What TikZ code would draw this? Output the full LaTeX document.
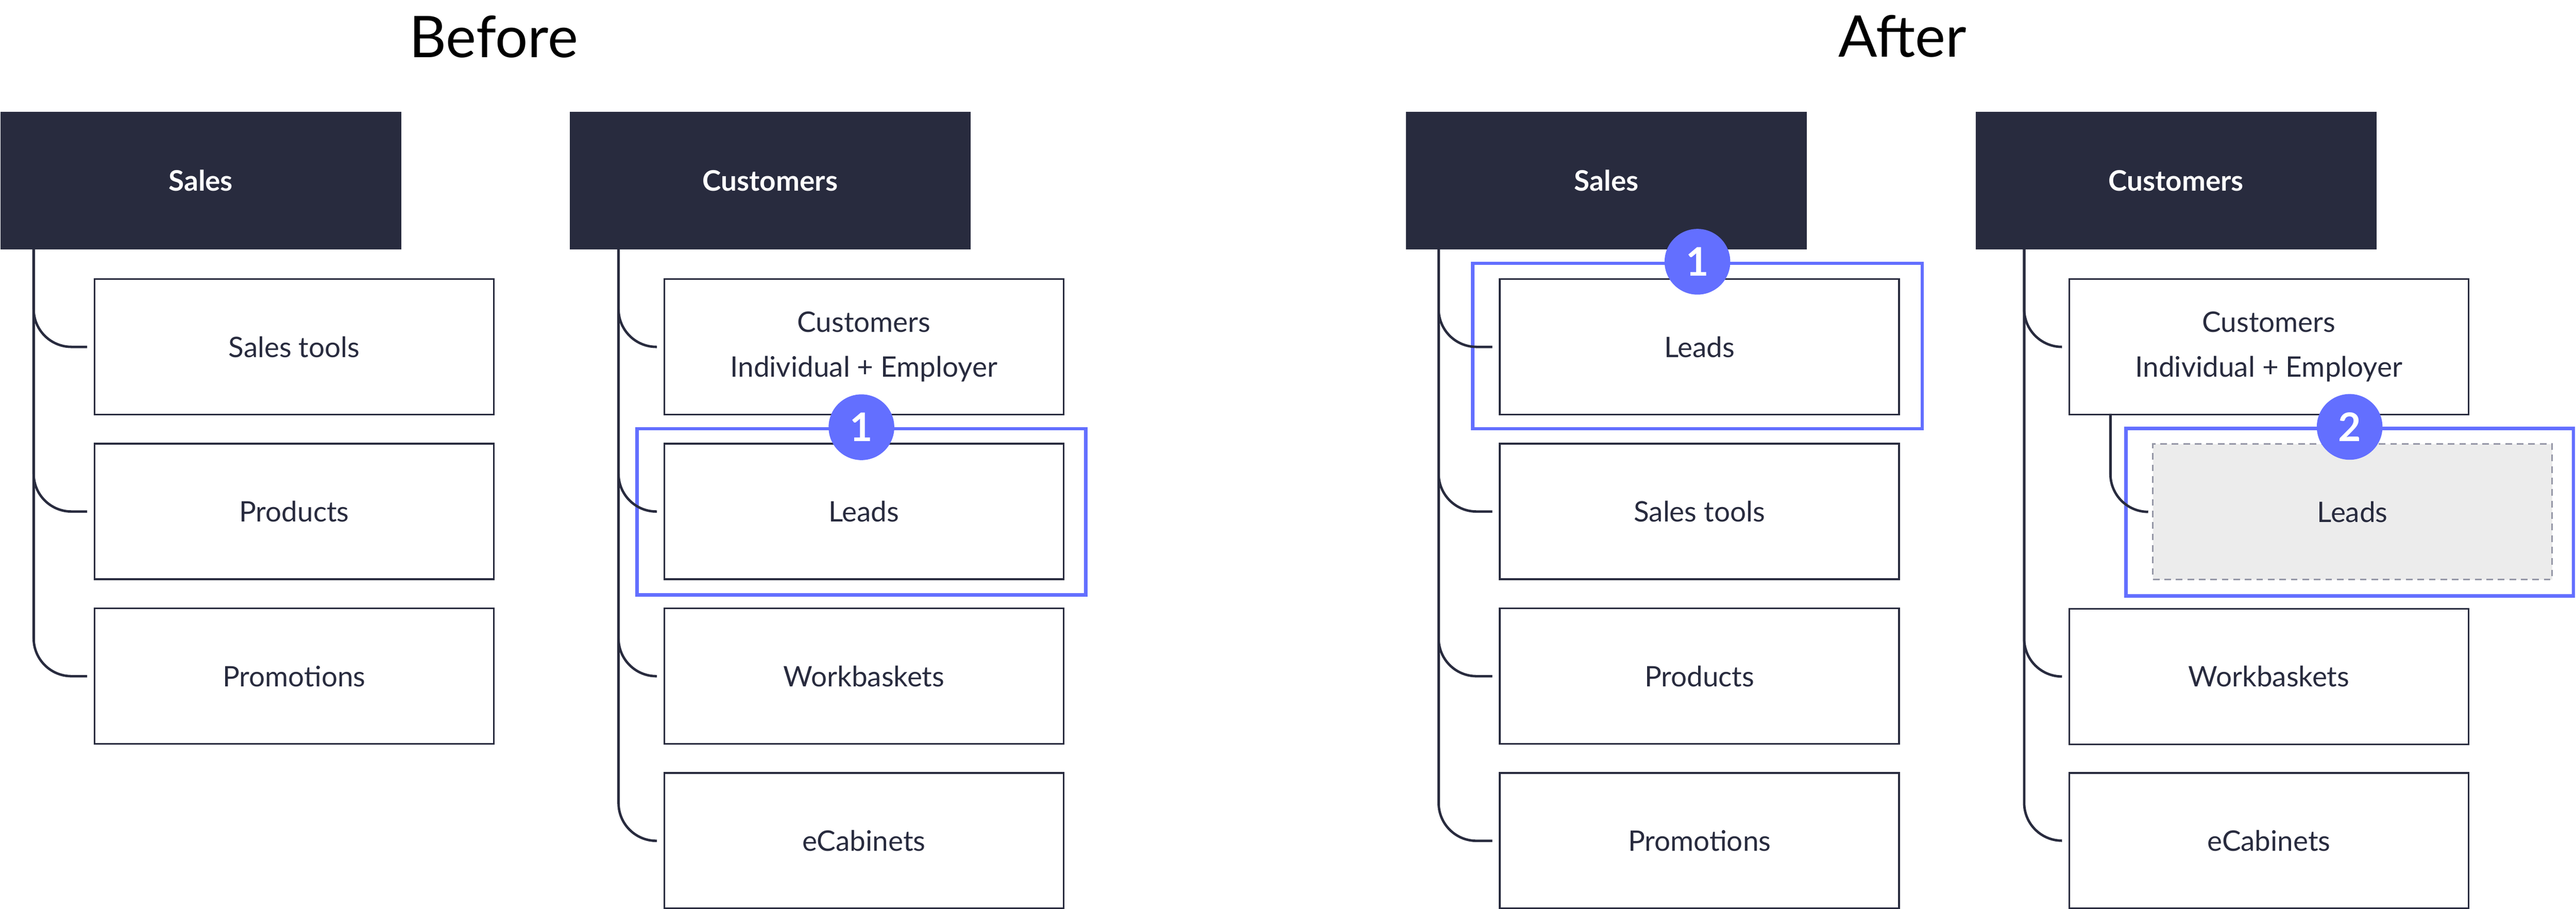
\documentclass[tikz,border=0pt]{standalone}
\usepackage{fontspec}
\setmainfont{Lato}
\usetikzlibrary{fit}
\definecolor{navy}{HTML}{282B3E}
\definecolor{accent}{HTML}{636FFF}
\definecolor{ghost}{HTML}{ECECEC}
\definecolor{dashgray}{HTML}{9496A6}
\tikzset{x=1pt,y=-1pt,
         head/.style={fill=navy,text=white,anchor=north west,inner sep=0,
                      minimum width=244pt,minimum height=83.5pt,
                      font=\fontsize{17.2}{20}\selectfont\bfseries},
         item/.style={draw=navy,line width=1.1pt,fill=white,text=navy,
                      anchor=north west,inner sep=0,align=center,
                      minimum width=243pt,minimum height=82.5pt,
                      font=\fontsize{17.2}{27.4}\selectfont},
         moved/.style={item,draw=dashgray,fill=ghost,line width=0.9pt,
                       dash pattern=on 4pt off 3pt},
         branch/.style={draw=navy,line width=1.5pt,rounded corners=23pt},
         hl/.style={draw=accent,line width=2pt,inner sep=0},
         badge/.style={circle,fill=accent,text=white,inner sep=0,
                       minimum size=40pt,font=\fontsize{24}{24}\selectfont\bfseries},
         title/.style={anchor=base,font=\fontsize{35}{40}\selectfont}}

\begin{document}
\begin{tikzpicture}
    \useasboundingbox (0,0) rectangle (1568,553.1);

    \node[title] (before) at (300.5,35) {Before};
    \node[title] (after) at (1158,34.7) {After};

    % before
    \node[head] (sb) at (0,68) {Sales};
    \foreach \t [count=\i] in {Sales tools,Products,Promotions}
        \node[item] (sb\i) at (57,{169.3+100.2*(\i-1)}) {\t};
    \node[head] (cb) at (346.6,68) {Customers};
    \foreach \t [count=\i] in {{Customers\\Individual + Employer},Leads,Workbaskets,eCabinets}
        \node[item] (cb\i) at (403.8,{169.3+100.2*(\i-1)}) {\t};

    % after
    \node[head] (sa) at (855.6,68) {Sales};
    \foreach \t [count=\i] in {Leads,Sales tools,Products,Promotions}
        \node[item] (sa\i) at (912.4,{169.3+100.2*(\i-1)}) {\t};
    \node[head] (ca) at (1202.3,68) {Customers};
    \node[item] (ca1) at (1259,169.3) {Customers\\Individual + Employer};
    \node[moved] (mv) at (1310,269.8) {Leads};
    \node[item] (ca3) at (1259,369.9) {Workbaskets};
    \node[item] (ca4) at (1259,469.8) {eCabinets};

    % highlights
    \node[hl,fit={([xshift=-16pt,yshift=8.5pt]cb2.north west) ([xshift=13pt,yshift=-9pt]cb2.south east)}] (hb) {};
    \node[hl,fit={([xshift=-16pt,yshift=9pt]sa1.north west) ([xshift=13.5pt,yshift=-8pt]sa1.south east)}] (ha) {};
    \node[hl,fit={([xshift=-16pt,yshift=9pt]mv.north west) ([xshift=12.5pt,yshift=-9.5pt]mv.south east)}] (hc) {};

    % branches
    \coordinate (sbt) at (20.5,151.4);
    \coordinate (cbt) at (376.5,151.4);
    \coordinate (sat) at (875.7,151.4);
    \coordinate (cat) at (1232.1,151.4);
    \coordinate (mvt) at (1284.6,251.8);
    \foreach \i in {1,2,3}
        \draw[branch] (sbt) |- ([xshift=-4pt]sb\i.west);
    \foreach \i in {1,...,4}
        \draw[branch] (cbt) |- ([xshift=-4pt]cb\i.west);
    \foreach \i in {1,...,4}
        \draw[branch] (sat) |- ([xshift=-4pt]sa\i.west);
    \foreach \i in {1,3,4}
        \draw[branch] (cat) |- ([xshift=-4pt]ca\i.west);
    \draw[branch] (mvt) |- ([xshift=-4pt]mv.west);

    \node[badge] (nb) at (hb.north) {1};
    \node[badge] (na) at (ha.north) {1};
    \node[badge] (nc) at (hc.north) {2};
\end{tikzpicture}
\end{document}
